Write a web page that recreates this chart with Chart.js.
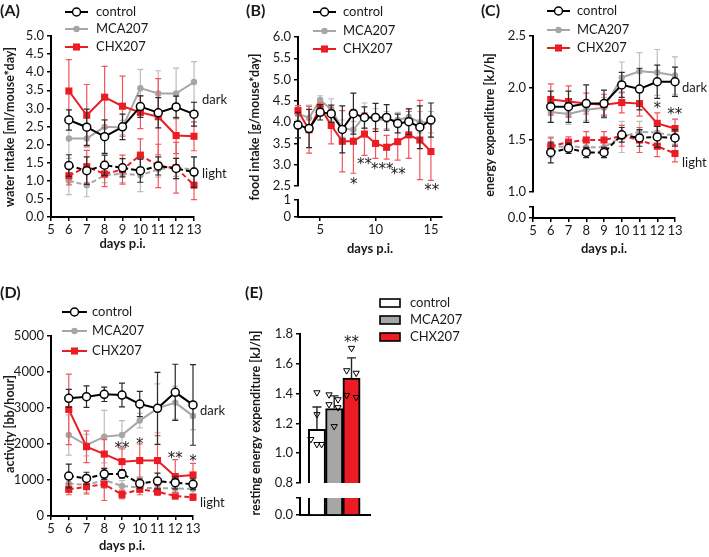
<!DOCTYPE html>
<html>
<head>
<meta charset="utf-8">
<script src="https://cdn.jsdelivr.net/npm/chart.js@4.4.1/dist/chart.umd.min.js"></script>
<style>
html,body{margin:0;padding:0;background:#fff;}
#fig{position:relative;width:709px;height:557px;overflow:hidden;background:#fff;}
#fig canvas{position:absolute;left:0;top:0;}
</style>
</head>
<body>
<div id="fig"></div>
<script>
// ---- data ----
const groupNames = ['control', 'MCA207', 'CHX207'];
const days6to13 = [6, 7, 8, 9, 10, 11, 12, 13];
const days3to15 = [3, 4, 5, 6, 7, 8, 9, 10, 11, 12, 13, 14, 15];
const dayTicksA = [5, 6, 7, 8, 9, 10, 11, 12, 13];
const dayTicksB = [5, 10, 15];

// (A) water intake
const waterCtrlDark = [2.68, 2.48, 2.22, 2.49, 3.05, 2.88, 3.04, 2.84];
const waterCtrlDarkSd = [0.28, 0.5, 0.46, 0.35, 0.3, 0.42, 0.3, 0.33];
const waterMcaDark = [2.17, 2.17, 2.49, 2.47, 3.56, 3.41, 3.41, 3.73];
const waterMcaDarkSd = [0.55, 0.25, 0.2, 0.2, 0.52, 0.63, 0.7, 0.56];
const waterChxDark = [3.48, 2.81, 3.31, 3.06, 2.89, 2.77, 2.25, 2.23];
const waterChxDarkSd = [0.87, 0.85, 0.85, 0.83, 0.45, 1.05, 0.5, 0.4];
const waterCtrlLight = [1.42, 1.28, 1.43, 1.36, 1.28, 1.41, 1.34, 1.24];
const waterCtrlLightSd = [0.3, 0.38, 0.28, 0.25, 0.32, 0.25, 0.28, 0.42];
const waterMcaLight = [1.0, 0.88, 1.15, 1.2, 1.15, 1.32, 1.37, 1.3];
const waterMcaLightSd = [0.38, 0.32, 0.2, 0.25, 0.45, 0.22, 0.25, 0.35];
const waterChxLight = [1.14, 1.39, 1.19, 1.31, 1.71, 1.41, 1.36, 0.88];
const waterChxLightSd = [0.25, 0.45, 0.35, 0.4, 0.45, 0.6, 0.7, 0.4];

// (B) food intake
const foodCtrl = [3.93, 3.85, 4.23, 4.2, 3.83, 4.2, 4.11, 4.11, 4.11, 3.97, 4.01, 3.88, 4.05];
const foodCtrlSd = [0.3, 0.45, 0.18, 0.2, 0.55, 0.48, 0.25, 0.33, 0.3, 0.22, 0.3, 0.5, 0.4];
const foodMca = [4.2, 4.1, 4.52, 4.3, 3.85, 3.82, 4.15, 4.07, 4.05, 4.05, 4.12, 4.0, 4.0];
const foodMcaSd = [0.15, 0.3, 0.1, 0.25, 0.2, 0.2, 0.3, 0.25, 0.2, 0.18, 0.2, 0.25, 0.25];
const foodChx = [4.27, 3.82, 4.35, 3.92, 3.55, 3.55, 3.72, 3.5, 3.41, 3.54, 3.7, 3.58, 3.31];
const foodChxSd = [0.12, 0.55, 0.1, 0.43, 0.72, 0.75, 0.5, 0.35, 0.28, 0.43, 0.55, 0.93, 0.68];
const foodStarDays = [8.03, 9, 10.6, 12.05, 15.07];
const foodStarY = [2.64, 3.1, 3.0, 2.88, 2.49];
const foodStarText = ['*', '**', '***', '**', '**'];

// (C) energy expenditure
const eeCtrlDark = [1.82, 1.82, 1.85, 1.85, 2.03, 1.99, 2.06, 2.06];
const eeCtrlDarkSd = [0.15, 0.15, 0.18, 0.13, 0.12, 0.2, 0.16, 0.14];
const eeMcaDark = [1.77, 1.75, 1.79, 1.81, 2.1, 2.16, 2.15, 2.12];
const eeMcaDarkSd = [0.1, 0.1, 0.1, 0.1, 0.15, 0.18, 0.22, 0.18];
const eeChxDark = [1.89, 1.87, 1.85, 1.84, 1.86, 1.85, 1.66, 1.61];
const eeChxDarkSd = [0.15, 0.15, 0.1, 0.1, 0.1, 0.12, 0.1, 0.09];
const eeCtrlLight = [1.38, 1.42, 1.38, 1.38, 1.55, 1.52, 1.53, 1.52];
const eeCtrlLightSd = [0.1, 0.05, 0.05, 0.05, 0.07, 0.08, 0.1, 0.08];
const eeMcaLight = [1.43, 1.44, 1.43, 1.43, 1.53, 1.58, 1.57, 1.54];
const eeMcaLightSd = [0.1, 0.05, 0.05, 0.05, 0.15, 0.1, 0.1, 0.08];
const eeChxLight = [1.44, 1.48, 1.5, 1.5, 1.54, 1.5, 1.44, 1.37];
const eeChxLightSd = [0.08, 0.05, 0.08, 0.08, 0.1, 0.12, 0.1, 0.08];
const eeStarDays = [12, 12.98];
const eeStarY = [1.85, 1.79];
const eeStarText = ['*', '**'];

// (D) activity
const actCtrlDark = [3270, 3315, 3380, 3360, 3110, 2990, 3435, 3085];
const actCtrlDarkSd = [250, 300, 200, 330, 350, 1000, 780, 1120];
const actMcaDark = [2250, 1970, 2205, 2250, 2650, 2990, 3150, 2780];
const actMcaDarkSd = [560, 300, 730, 400, 200, 680, 460, 380];
const actChxDark = [2960, 1925, 1720, 1510, 1540, 1540, 1095, 1140];
const actChxDarkSd = [980, 440, 400, 380, 460, 690, 470, 320];
const actCtrlLight = [1110, 1045, 1165, 1170, 905, 970, 925, 880];
const actCtrlLightSd = [330, 170, 150, 120, 130, 220, 170, 150];
const actMcaLight = [905, 860, 1000, 835, 785, 770, 770, 750];
const actMcaLightSd = [250, 200, 230, 150, 120, 100, 100, 130];
const actChxLight = [740, 815, 880, 600, 740, 675, 555, 520];
const actChxLightSd = [150, 200, 450, 120, 150, 100, 80, 80];
const actStarDays = [9, 10, 12, 13];
const actStarY = [2000, 2110, 1720, 1640];
const actStarText = ['**', '*', '**', '*'];

// (E) resting energy expenditure
const restPos = [0, 1, 2];
const restMean = [1.16, 1.30, 1.505];
const restSd = [0.15, 0.085, 0.135];
const restCtrlPts = [1.407, 1.26, 1.093, 1.06, 1.06];
const restCtrlJit = [0, 0, -0.35, 0, 0.27];
const restMcaPts = [1.393, 1.36, 1.327, 1.307, 1.18];
const restMcaJit = [-0.3, 0.22, -0.3, 0.22, 0];
const restChxPts = [1.705, 1.555, 1.538, 1.389, 1.375];
const restChxJit = [0, -0.28, 0.27, -0.28, 0.27];

// ---- setup ----
const W = 709, H = 557, YW = 40;
const FONT = "Lato, 'Open Sans', sans-serif";
const BLACK = '#000', GREY = '#a6a6a6', RED = '#ec1c24', INK = '#1a1a1a';
Chart.defaults.font.family = FONT;
Chart.defaults.font.size = 13;
Chart.defaults.color = INK;

const STY = {
  ctrl: {c: BLACK, e: '#2a2a2a', ps: 'circle', r: 4, bg: '#fff', bw: 1.5, fill: '#fff'},
  mca: {c: GREY, e: '#bdbdbd', ps: 'circle', r: 3.2, bg: GREY, bw: 0, fill: GREY},
  chx: {c: RED, e: '#f0575c', ps: 'rect', r: 5, bg: RED, bw: 0, fill: RED}
};

function pts(xs, ys) { return ys.map((v, i) => ({x: xs[i], y: v})); }

function series(kind, dashed, xs, ys, sd) {
  const s = STY[kind];
  return {type: 'line', data: pts(xs, ys), errors: sd, errorColor: s.e,
    borderColor: s.c, borderWidth: 2, borderDash: dashed ? [5, 3] : [],
    pointStyle: s.ps, pointRadius: s.r, pointBackgroundColor: s.bg,
    pointBorderColor: s.c, pointBorderWidth: s.bw, clip: false, tension: 0};
}

// error bars drawn just under each dataset
const errorBars = {
  id: 'errorBars',
  beforeDatasetDraw(chart, args) {
    const ds = chart.data.datasets[args.index];
    if (!ds.errors) return;
    const ctx = chart.ctx, ys = chart.scales.y;
    const cap = ds.capWidth || 3;
    ctx.save();
    ctx.strokeStyle = ds.errorColor;
    ctx.lineWidth = ds.errorWidth || 1.2;
    args.meta.data.forEach((el, i) => {
      const v = ds.data[i].y, e = ds.errors[i];
      const yt = ys.getPixelForValue(v + e);
      const yb = ds.upOnly ? el.y : ys.getPixelForValue(v - e);
      ctx.beginPath();
      ctx.moveTo(el.x, yt); ctx.lineTo(el.x, yb);
      ctx.moveTo(el.x - cap, yt); ctx.lineTo(el.x + cap, yt);
      if (!ds.upOnly) { ctx.moveTo(el.x - cap, yb); ctx.lineTo(el.x + cap, yb); }
      ctx.stroke();
    });
    ctx.restore();
  }
};

// panel letters, axis titles, legends, significance stars
const decor = {
  id: 'decor',
  afterDatasetsDraw(chart, args, o) {
    const ctx = chart.ctx;
    (o.texts || []).forEach(t => {
      ctx.save();
      ctx.font = (t.bold ? 'bold ' : '') + (t.size || 13) + 'px ' + FONT;
      ctx.fillStyle = INK;
      ctx.textAlign = t.align || 'left';
      ctx.textBaseline = 'middle';
      ctx.translate(t.x, t.y);
      if (t.rot) ctx.rotate(-Math.PI / 2);
      ctx.fillText(t.text, 0, 0);
      ctx.restore();
    });
    const L = o.legend;
    if (L) {
      ['ctrl', 'mca', 'chx'].forEach((k, i) => {
        const s = STY[k], y = L.ys[i];
        ctx.save();
        if (L.box) {
          ctx.fillStyle = s.fill; ctx.strokeStyle = BLACK; ctx.lineWidth = 1.6;
          ctx.fillRect(L.x1, y - 4, L.x2 - L.x1, 8);
          ctx.strokeRect(L.x1, y - 4, L.x2 - L.x1, 8);
        } else {
          ctx.strokeStyle = s.c; ctx.lineWidth = 2;
          ctx.beginPath(); ctx.moveTo(L.x1, y); ctx.lineTo(L.x2, y); ctx.stroke();
          ctx.fillStyle = s.bg; ctx.lineWidth = s.bw;
          Chart.helpers.drawPoint(ctx, {pointStyle: s.ps, radius: s.r, rotation: 0, borderWidth: s.bw}, (L.x1 + L.x2) / 2, y);
        }
        ctx.fillStyle = INK;
        ctx.font = '13px ' + FONT;
        ctx.textAlign = 'left'; ctx.textBaseline = 'middle';
        ctx.fillText(groupNames[i], L.tx, y);
        ctx.restore();
      });
    }
    if (o.stars) {
      const xs = chart.scales.x, ys = chart.scales.y;
      ctx.save();
      ctx.font = "15px 'DejaVu Sans', sans-serif"; ctx.fillStyle = INK;
      ctx.textAlign = 'center'; ctx.textBaseline = 'alphabetic';
      o.stars.days.forEach((d, i) => {
        ctx.fillText(o.stars.text[i], xs.getPixelForValue(d), ys.getPixelForValue(o.stars.y[i]) + 9);
      });
      ctx.restore();
    }
  }
};
Chart.register(errorBars, decor);

function yScale(min, max, step, fmt, tickList) {
  const s = {type: 'linear', min, max, position: 'left',
    ticks: {stepSize: step, callback: fmt, padding: 3, color: INK, font: {size: 13}, autoSkip: false},
    grid: {drawOnChartArea: false, drawTicks: true, tickLength: 4, color: BLACK, lineWidth: 1.5},
    border: {color: BLACK, width: 2},
    afterFit(sc) { sc.width = YW; }};
  if (tickList) s.afterBuildTicks = sc => { sc.ticks = tickList.map(v => ({value: v})); };
  return s;
}

function xScale(min, max, tickList, show, xh) {
  return {type: 'linear', min, max, display: show, offset: false,
    afterBuildTicks(sc) { sc.ticks = tickList.map(v => ({value: v})); },
    ticks: {autoSkip: false, maxRotation: 0, minRotation: 0, padding: 1, color: INK},
    grid: {drawOnChartArea: false, drawTicks: true, tickLength: 4, color: BLACK, lineWidth: 1.5},
    border: {color: BLACK, width: 2},
    title: {display: true, text: 'days p.i.', font: {weight: 'bold', size: 13}, padding: 0, color: INK},
    afterFit(sc) { sc.height = xh; }};
}

const fig = document.getElementById('fig');
function panel(area, xh, cfg) {
  const c = document.createElement('canvas');
  c.width = W; c.height = H; c.style.width = W + 'px'; c.style.height = H + 'px';
  fig.appendChild(c);
  const o = cfg.options;
  o.responsive = false; o.animation = false; o.devicePixelRatio = 1; o.events = [];
  o.layout = {padding: {left: area.left - YW, top: area.top, right: W - area.right, bottom: H - area.bottom - xh}};
  o.plugins = Object.assign({legend: {display: false}, tooltip: {enabled: false}}, o.plugins || {});
  return new Chart(c, cfg);
}

const f1 = v => v.toFixed(1);
const f0 = v => String(v);

// ---- (A) ----
panel({left: 51, top: 36, right: 194, bottom: 217}, 35, {
  type: 'line',
  data: {datasets: [
    series('ctrl', false, days6to13, waterCtrlDark, waterCtrlDarkSd),
    series('ctrl', true, days6to13, waterCtrlLight, waterCtrlLightSd),
    series('chx', false, days6to13, waterChxDark, waterChxDarkSd),
    series('chx', true, days6to13, waterChxLight, waterChxLightSd),
    series('mca', false, days6to13, waterMcaDark, waterMcaDarkSd),
    series('mca', true, days6to13, waterMcaLight, waterMcaLightSd)
  ]},
  options: {
    scales: {x: xScale(5, 13, dayTicksA, true, 35), y: yScale(0, 5, 0.5, f1)},
    plugins: {decor: {
      texts: [
        {text: '(A)', x: 0, y: 11, bold: true, size: 16},
        {text: 'water intake [ml/mouse*day]', x: 10, y: 127, bold: true, size: 12.5, rot: true, align: 'center'},
        {text: 'dark', x: 202, y: 100}, {text: 'light', x: 202, y: 174}
      ],
      legend: {x1: 65, x2: 88, tx: 96, ys: [12, 29, 47]}
    }}
  }
});

// ---- (B) ----
panel({left: 298, top: 37, right: 442, bottom: 186}, 0, {
  type: 'line',
  data: {datasets: [
    series('ctrl', false, days3to15, foodCtrl, foodCtrlSd),
    series('chx', false, days3to15, foodChx, foodChxSd),
    series('mca', false, days3to15, foodMca, foodMcaSd)
  ]},
  options: {
    scales: {x: xScale(3, 16, dayTicksB, false, 0), y: yScale(2.5, 6, 0.5, f1)},
    plugins: {decor: {
      texts: [
        {text: '(B)', x: 246, y: 11, bold: true, size: 16},
        {text: 'food intake [g/mouse*day]', x: 255, y: 127, bold: true, size: 12.5, rot: true, align: 'center'}
      ],
      legend: {x1: 313, x2: 336, tx: 343, ys: [12, 31, 49]},
      stars: {days: foodStarDays, y: foodStarY, text: foodStarText}
    }}
  }
});
panel({left: 298, top: 200, right: 442, bottom: 217}, 40, {
  type: 'line', data: {datasets: []},
  options: {scales: {x: xScale(3, 16, dayTicksB, true, 40), y: yScale(0, 1, 1, f0, [0, 1])}}
});

// ---- (C) ----
panel({left: 533, top: 36, right: 675, bottom: 192}, 0, {
  type: 'line',
  data: {datasets: [
    series('ctrl', false, days6to13, eeCtrlDark, eeCtrlDarkSd),
    series('ctrl', true, days6to13, eeCtrlLight, eeCtrlLightSd),
    series('chx', false, days6to13, eeChxDark, eeChxDarkSd),
    series('chx', true, days6to13, eeChxLight, eeChxLightSd),
    series('mca', false, days6to13, eeMcaDark, eeMcaDarkSd),
    series('mca', true, days6to13, eeMcaLight, eeMcaLightSd)
  ]},
  options: {
    scales: {x: xScale(5, 13, dayTicksA, false, 0), y: yScale(1, 2.5, 0.5, f1)},
    plugins: {decor: {
      texts: [
        {text: '(C)', x: 481, y: 11, bold: true, size: 16},
        {text: 'energy expenditure [kJ/h]', x: 490, y: 125, bold: true, size: 12.5, rot: true, align: 'center'},
        {text: 'dark', x: 682, y: 88}, {text: 'light', x: 682, y: 163}
      ],
      legend: {x1: 547, x2: 570, tx: 577, ys: [11, 30, 48]},
      stars: {days: eeStarDays, y: eeStarY, text: eeStarText}
    }}
  }
});
panel({left: 533, top: 207, right: 675, bottom: 218}, 39, {
  type: 'line', data: {datasets: []},
  options: {scales: {x: xScale(5, 13, dayTicksA, true, 39), y: yScale(0, 0.1, 0.1, v => v === 0 ? '0.0' : '', [0, 0.1])}}
});

// ---- (D) ----
panel({left: 51, top: 336, right: 193, bottom: 516}, 38, {
  type: 'line',
  data: {datasets: [
    series('ctrl', false, days6to13, actCtrlDark, actCtrlDarkSd),
    series('ctrl', true, days6to13, actCtrlLight, actCtrlLightSd),
    series('chx', false, days6to13, actChxDark, actChxDarkSd),
    series('chx', true, days6to13, actChxLight, actChxLightSd),
    series('mca', false, days6to13, actMcaDark, actMcaDarkSd),
    series('mca', true, days6to13, actMcaLight, actMcaLightSd)
  ]},
  options: {
    scales: {x: xScale(5, 13, dayTicksA, true, 38), y: yScale(0, 5000, 1000, f0)},
    plugins: {decor: {
      texts: [
        {text: '(D)', x: 0, y: 293, bold: true, size: 16},
        {text: 'activity [bb/hour]', x: 10, y: 424, bold: true, size: 12.5, rot: true, align: 'center'},
        {text: 'dark', x: 200, y: 411}, {text: 'light', x: 200, y: 503}
      ],
      legend: {x1: 62, x2: 87, tx: 92, ys: [312, 331, 351]},
      stars: {days: actStarDays, y: actStarY, text: actStarText}
    }}
  }
});

// ---- (E) ----
function dots(base, vals, jit) {
  return {type: 'scatter', data: vals.map((v, i) => ({x: base + jit[i], y: v})),
    pointStyle: 'triangle', rotation: 180, pointRadius: 3.6, pointBackgroundColor: 'rgba(0,0,0,0)',
    pointBorderColor: BLACK, pointBorderWidth: 1, clip: false};
}
function restBars(withErr) {
  return {type: 'bar', data: pts(restPos, restMean), backgroundColor: [STY.ctrl.fill, STY.mca.fill, STY.chx.fill],
    borderColor: BLACK, borderWidth: 2, borderSkipped: 'start', barPercentage: 1, categoryPercentage: 1,
    errors: withErr ? restSd : null, upOnly: true, errorColor: '#222', errorWidth: 1.4, capWidth: 4.5};
}
const eMin = -0.98, eMax = 3.07;
function eX(show) {
  return {type: 'linear', min: eMin, max: eMax, display: show, offset: false,
    afterBuildTicks(sc) { sc.ticks = restPos.map(v => ({value: v})); },
    ticks: {display: false}, grid: {drawOnChartArea: false, drawTicks: false, offset: false},
    border: {color: BLACK, width: 2}, afterFit(sc) { sc.height = 1; }};
}
panel({left: 300, top: 334, right: 370, bottom: 484}, 0, {
  type: 'bar',
  data: {datasets: [
    dots(restPos[0], restCtrlPts, restCtrlJit),
    dots(restPos[1], restMcaPts, restMcaJit),
    dots(restPos[2], restChxPts, restChxJit),
    restBars(true)
  ]},
  options: {
    scales: {x: eX(false), y: yScale(0.8, 1.8, 0.2, f1)},
    plugins: {decor: {
      texts: [
        {text: '(E)', x: 245, y: 293, bold: true, size: 16},
        {text: 'resting energy expenditure [kJ/h]', x: 256, y: 423, bold: true, size: 12.5, rot: true, align: 'center'}
      ],
      legend: {x1: 380, x2: 400, tx: 410, ys: [303, 320, 337], box: true},
      stars: {days: [restPos[2]], y: [1.77], text: ['**']}
    }}
  }
});
panel({left: 300, top: 498, right: 370, bottom: 515}, 1, {
  type: 'bar',
  data: {datasets: [restBars(false)]},
  options: {scales: {x: eX(true), y: yScale(0, 0.1, 0.1, v => v === 0 ? '0.0' : '', [0, 0.1])}}
});
</script>
</body>
</html>
